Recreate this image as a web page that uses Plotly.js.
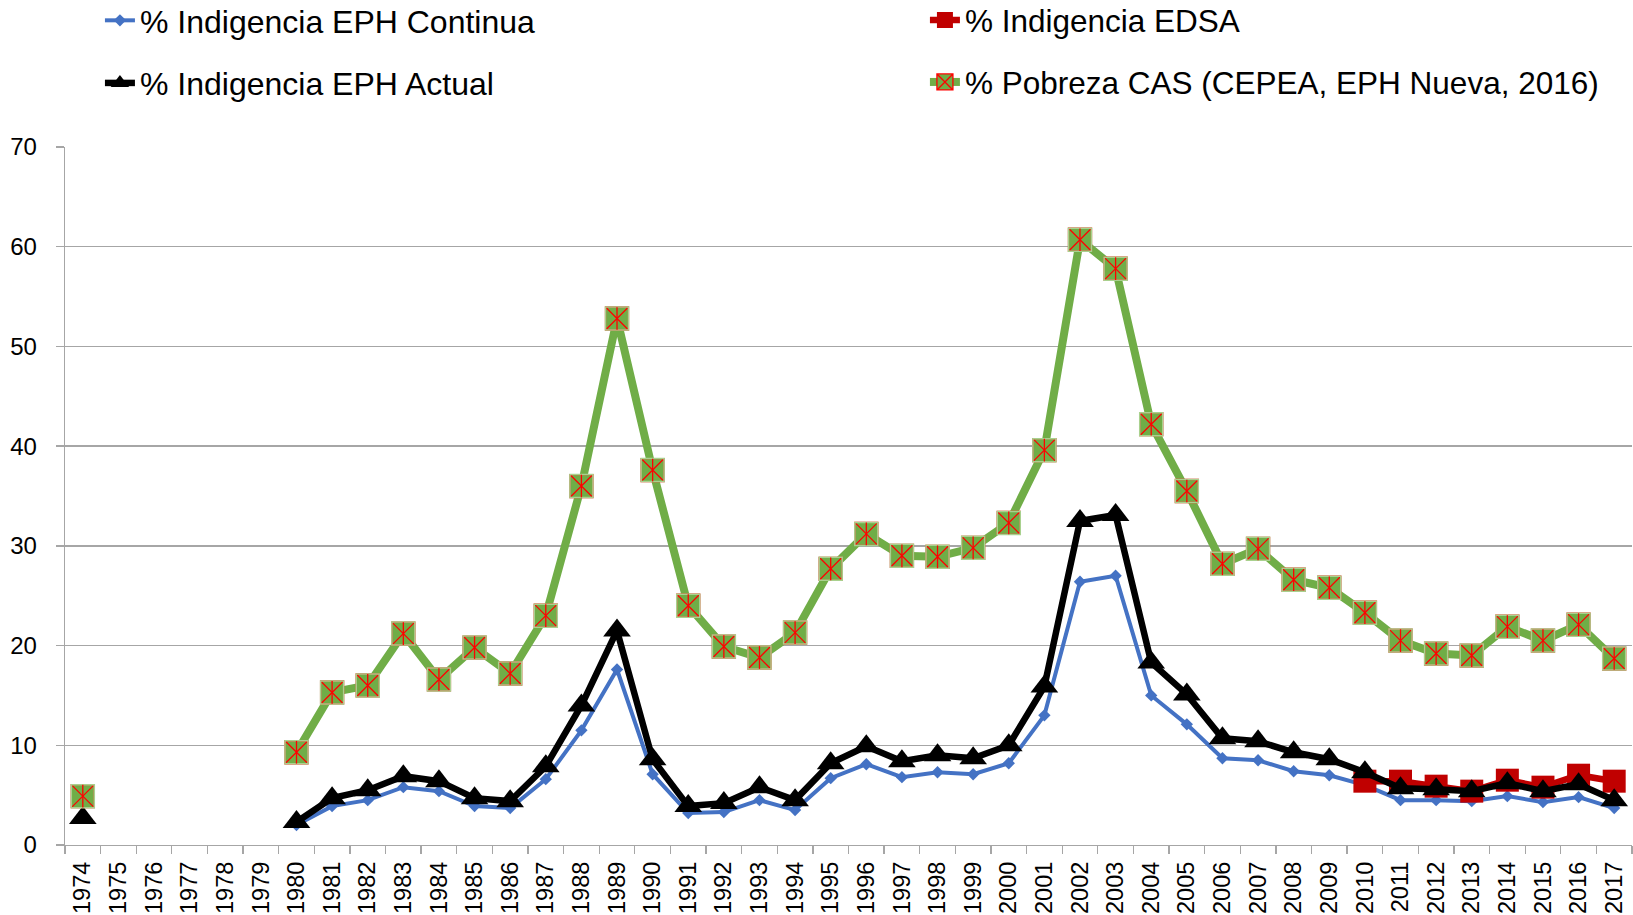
<!DOCTYPE html>
<html>
<head>
<meta charset="utf-8">
<script src="https://cdn.plot.ly/plotly-3.0.1.min.js"></script>
<style>
html,body{margin:0;padding:0;background:#fff;}
#chart{width:1633px;height:915px;}
</style>
</head>
<body>
<div id="chart"></div>
<script>
var years = ["1974","1975","1976","1977","1978","1979","1980","1981","1982","1983","1984","1985","1986","1987","1988","1989","1990","1991","1992","1993","1994","1995","1996","1997","1998","1999","2000","2001","2002","2003","2004","2005","2006","2007","2008","2009","2010","2011","2012","2013","2014","2015","2016","2017"];

var indigenciaEPHContinua = [null,null,null,null,null,null,2.0,3.9,4.5,5.8,5.4,3.9,3.7,6.6,11.5,17.6,7.1,3.2,3.3,4.5,3.5,6.7,8.1,6.8,7.3,7.1,8.2,13.0,26.4,27.0,15.0,12.1,8.7,8.5,7.4,7.0,6.0,4.5,4.5,4.4,4.9,4.3,4.8,3.7];

var indigenciaEDSA = [null,null,null,null,null,null,null,null,null,null,null,null,null,null,null,null,null,null,null,null,null,null,null,null,null,null,null,null,null,null,null,null,null,null,null,null,6.4,6.4,5.9,5.4,6.5,5.8,7.0,6.4];

var indigenciaEPHActual = [2.7,null,null,null,null,null,2.3,4.7,5.5,6.9,6.4,4.7,4.4,7.9,14.0,21.5,8.6,3.9,4.2,5.8,4.5,8.2,9.9,8.4,9.0,8.7,10.0,15.9,32.5,33.1,18.3,15.1,10.7,10.4,9.3,8.6,7.3,5.7,5.6,5.4,6.2,5.4,6.1,4.5];

var pobrezaCAS = [4.9,null,null,null,null,null,9.3,15.3,16.0,21.2,16.6,19.8,17.2,23.0,36.0,52.8,37.6,24.0,19.9,18.8,21.3,27.7,31.2,29.0,28.9,29.8,32.3,39.6,60.7,57.8,42.2,35.5,28.2,29.7,26.6,25.8,23.3,20.5,19.2,19.0,21.9,20.5,22.1,18.7];

var seriesNames = ["% Indigencia EPH Continua","% Indigencia EDSA","% Indigencia EPH Actual","% Pobreza CAS (CEPEA, EPH Nueva, 2016)"];

var FONT = "Liberation Sans, Arial, sans-serif";

var traces = [
  {x: years, y: indigenciaEPHContinua, name: seriesNames[0], type: "scatter", mode: "lines+markers",
   legend: "legend", legendgroup: "g1",
   line: {color: "#4472C4", width: 4},
   marker: {symbol: "diamond", size: 9.5, color: "#4472C4"}},
  {x: years, y: indigenciaEDSA, name: seriesNames[1], type: "scatter", mode: "lines+markers",
   legend: "legend2", legendgroup: "g2",
   line: {color: "#C00000", width: 6.5},
   marker: {symbol: "square", size: 23, color: "#C00000"}},
  {x: years, y: indigenciaEPHActual, name: seriesNames[2], type: "scatter", mode: "lines+markers",
   legend: "legend", legendgroup: "g3",
   line: {color: "#000000", width: 6.5},
   marker: {symbol: "triangle-up", size: 24, color: "#000000"}},
  {x: years, y: pobrezaCAS, name: seriesNames[3], type: "scatter", mode: "lines+markers",
   legend: "legend2", legendgroup: "g4",
   line: {color: "#70AD47", width: 8},
   marker: {symbol: "square-x", size: 23, color: "#70AD47", line: {color: "#FF0000", width: 1.3}}},
  {x: years, y: pobrezaCAS, name: seriesNames[3], type: "scatter", mode: "markers",
   showlegend: false, hoverinfo: "skip",
   marker: {symbol: "square-open", size: 23, color: "#A9D18E", line: {color: "#A9D18E", width: 1.5}}},
  {x: years, y: pobrezaCAS, name: seriesNames[3], type: "scatter", mode: "markers",
   showlegend: false, hoverinfo: "skip",
   marker: {symbol: "line-ns-open", size: 16.2, color: "#FF0000", line: {color: "#FF0000", width: 1.3}}}
];

var layout = {
  width: 1633, height: 915,
  paper_bgcolor: "#ffffff", plot_bgcolor: "#ffffff",
  margin: {l: 65, r: 1, t: 147, b: 70, pad: 0, autoexpand: false},
  font: {family: FONT, color: "#000000", size: 23},
  showlegend: true,
  legend: {xref: "container", yref: "paper", x: 0.0612, y: 1.2206, xanchor: "left", yanchor: "top",
           orientation: "v", bgcolor: "rgba(0,0,0,0)", borderwidth: 0, tracegroupgap: 18,
           font: {family: FONT, size: 32, color: "#000000"}},
  legend2: {xref: "container", yref: "paper", x: 0.5664, y: 1.2206, xanchor: "left", yanchor: "top",
           orientation: "v", bgcolor: "rgba(0,0,0,0)", borderwidth: 0, tracegroupgap: 18,
           font: {family: FONT, size: 31.5, color: "#000000"}},
  xaxis: {type: "category", categoryorder: "array", categoryarray: years,
          range: [-0.5, 43.5], autorange: false,
          tickmode: "array", tickvals: years, ticktext: years,
          showgrid: false, zeroline: false, showline: true, linecolor: "#A6A6A6", linewidth: 1.3,
          ticks: "outside", tickson: "boundaries", ticklen: 8, tickcolor: "#A6A6A6", tickwidth: 1.3,
          tickangle: -90, tickfont: {family: FONT, size: 23.5, color: "#000000"},
          ticklabelstandoff: 6, automargin: false, fixedrange: true},
  yaxis: {range: [0, 70], autorange: false, dtick: 10, tick0: 0, showgrid: true, gridcolor: "#A6A6A6", gridwidth: 1.3,
          zeroline: false, showline: true, linecolor: "#A6A6A6", linewidth: 1.3,
          ticks: "outside", ticklen: 8, tickcolor: "#A6A6A6", tickwidth: 1.3,
          tickfont: {family: FONT, size: 24, color: "#000000"},
          ticklabelstandoff: 14, automargin: false, fixedrange: true}
};

Plotly.newPlot("chart", traces, layout, {displayModeBar: false, staticPlot: true});
</script>
</body>
</html>
